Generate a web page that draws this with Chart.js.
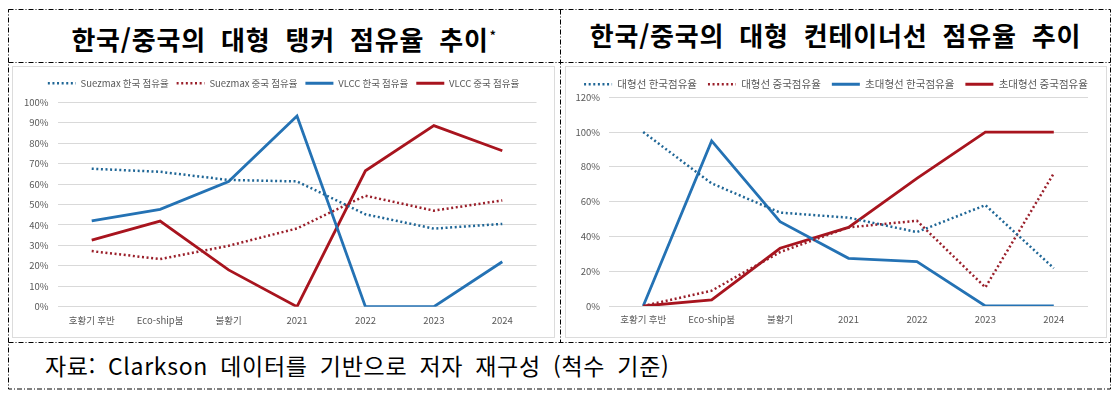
<!DOCTYPE html>
<html lang="ko">
<head>
<meta charset="utf-8">
<script src="https://cdn.jsdelivr.net/npm/chart.js@4.4.1/dist/chart.umd.min.js"></script>
<style>
  html, body { margin: 0; background: #fff; width: 1119px; height: 397px; overflow: hidden;
    font-family: "Noto Sans CJK KR", "Noto Sans", sans-serif; }
  svg.frame { position: absolute; left: 0; top: 0; }
  .title { position: absolute; top: 10px; height: 52px; line-height: 50px; text-align: center;
    font-weight: 700; font-size: 26px; color: #000; word-spacing: 7px; letter-spacing: 0.8px; white-space: nowrap; }
  .title sup { font-size: 12px; vertical-align: 10px; margin-left: 1px; }
  .edge { position: absolute; top: 66px; height: 272px; border: 1px solid #dcdcdc; box-sizing: border-box; }
  .plot { position: absolute; top: 66px; height: 272px; }
  #src { position: absolute; left: 45px; top: 342px; height: 47px; line-height: 46px;
    font-size: 23px; color: #000; word-spacing: 5px; letter-spacing: 0.7px; white-space: nowrap; }
</style>
</head>
<body>
<svg class="frame" width="1119" height="397">
  <g stroke="#000" stroke-width="1" stroke-dasharray="5,2,1,2" fill="none">
    <rect x="8.5" y="9.5" width="1102" height="379.5"/>
    <line x1="8.5" y1="62.5" x2="1110.5" y2="62.5"/>
    <line x1="8.5" y1="342.5" x2="1110.5" y2="342.5"/>
    <line x1="560.5" y1="9.5" x2="560.5" y2="342.5"/>
  </g>
</svg>

<div class="title" style="left:8px;width:552px">한국/중국의 대형 탱커 점유율 추이<sup>*</sup></div>
<div class="title" style="left:560px;width:551px">한국/중국의 대형 컨테이너선 점유율 추이</div>

<div class="edge" style="left:12px;width:543px"></div>
<div class="plot" style="left:12px;width:543px"><canvas id="tanker"></canvas></div>
<div class="edge" style="left:565px;width:542px"></div>
<div class="plot" style="left:565px;width:542px"><canvas id="container"></canvas></div>

<div id="src">자료: Clarkson 데이터를 기반으로 저자 재구성 (척수 기준)</div>

<script>
/* ---------- 데이터 ---------- */
const periods = ["호황기 후반", "Eco-ship붐", "불황기", "2021", "2022", "2023", "2024"];

// 탱커 (%)
const suezmaxKr = [67.5, 66, 62, 61.3, 45.2, 38.2, 40.5];
const suezmaxCn = [27.2, 23.3, 29.8, 38.3, 54.3, 47, 52];
const vlccKr = [42, 47.6, 61.2, 93.3, 0, 0, 22];
const vlccCn = [32.6, 41.9, 18, 0, 66.5, 88.6, 76.3];

// 컨테이너선 (%)
const largeKr = [100, 70.5, 53.7, 50.8, 42.5, 58, 21.7];
const largeCn = [0, 8.8, 31, 45.2, 49, 10.7, 76.3];
const ultraKr = [0, 94.9, 48.5, 27.4, 25.5, 0, 0];
const ultraCn = [0, 3.5, 33.2, 45.2, 73.4, 100, 100];

const tankerTicks = { max: 100, step: 10 };
const boxTicks = { max: 120, step: 20 };

const BLUE = "#2472B4";
const BLUE_DOT = "#1F6696";
const RED = "#A8141E";
const RED_DOT = "#9A1F2A";
const TXT = "#595959";
const FONT = "'Noto Sans CJK KR', 'Noto Sans', sans-serif";

/* 범례 높이 고정(한 줄) + 범례를 캔버스 전체 폭 가운데에 */
function legendFix(h) {
  return {
    id: "legendFix",
    beforeLayout(chart) {
      const lg = chart.legend;
      if (!lg || lg._fixed) return;
      const fit = lg.fit;
      lg.fit = function () {
        lg.maxWidth = chart.width; // 줄바꿈 방지
        fit.call(lg);
        lg.height = h;
      };
      lg._fixed = true;
    },
    afterLayout(chart) {
      chart.legend.left = 0;
      chart.legend.right = chart.width;
    },
  };
}

/* 점선 범례가 실선으로 나오지 않게 borderDash를 넘겨준다 */
function legendLabels(chart) {
  return Chart.defaults.plugins.legend.labels.generateLabels(chart).map((it) => ({
    ...it,
    lineDash: chart.data.datasets[it.datasetIndex].borderDash || [],
  }));
}

function dotted(label, data, color) {
  return { label, data, borderColor: color, backgroundColor: color, borderWidth: 2.5,
    borderDash: [2, 2.6], borderCapStyle: "butt", pointRadius: 0, tension: 0, fill: false };
}
function solid(label, data, color) {
  return { label, data, borderColor: color, backgroundColor: color, borderWidth: 2.8,
    pointRadius: 0, tension: 0, fill: false };
}

function makeChart(canvas, datasets, ticks, geo) {
  return new Chart(canvas, {
    type: "line",
    data: { labels: periods, datasets },
    plugins: [legendFix(geo.legendH)],
    options: {
      responsive: true,
      maintainAspectRatio: false,
      animation: false,
      layout: { padding: { top: geo.top, left: 0, right: geo.right, bottom: 0 } },
      scales: {
        x: {
          offset: true,
          grid: { display: false, drawTicks: false },
          border: { display: false },
          ticks: { color: TXT, padding: 8, font: { size: 9.5, family: FONT }, maxRotation: 0, autoSkip: false },
          afterFit: (s) => { s.height = geo.xH; },
        },
        y: {
          min: 0,
          max: ticks.max,
          grid: { color: "#d9d9d9", drawTicks: false },
          border: { display: false },
          ticks: { stepSize: ticks.step, padding: 9, color: TXT, font: { size: 9.5, family: FONT },
            callback: (v) => v + "%" },
          afterFit: (s) => { s.width = geo.yW; },
        },
      },
      plugins: {
        legend: {
          position: "top",
          labels: { usePointStyle: true, pointStyle: "line", pointStyleWidth: 28, padding: geo.pad,
            color: TXT, font: { size: geo.lgFont, family: FONT }, generateLabels: legendLabels },
        },
        tooltip: { enabled: false },
      },
    },
  });
}

makeChart(document.getElementById("tanker"), [
  dotted("Suezmax 한국 점유율", suezmaxKr, BLUE_DOT),
  dotted("Suezmax 중국 점유율", suezmaxCn, RED_DOT),
  solid("VLCC 한국 점유율", vlccKr, BLUE),
  solid("VLCC 중국 점유율", vlccCn, RED),
], tankerTicks, { top: 4.5, legendH: 31.8, pad: 8, lgFont: 9.5, yW: 45.5, xH: 31.3, right: 18.5 });

makeChart(document.getElementById("container"), [
  dotted("대형선 한국점유율", largeKr, BLUE_DOT),
  dotted("대형선 중국점유율", largeCn, RED_DOT),
  solid("초대형선 한국점유율", ultraKr, BLUE),
  solid("초대형선 중국점유율", ultraCn, RED),
], boxTicks, { top: 2, legendH: 29.3, pad: 11, lgFont: 10.5, yW: 44, xH: 32, right: 19 });
</script>
</body>
</html>
